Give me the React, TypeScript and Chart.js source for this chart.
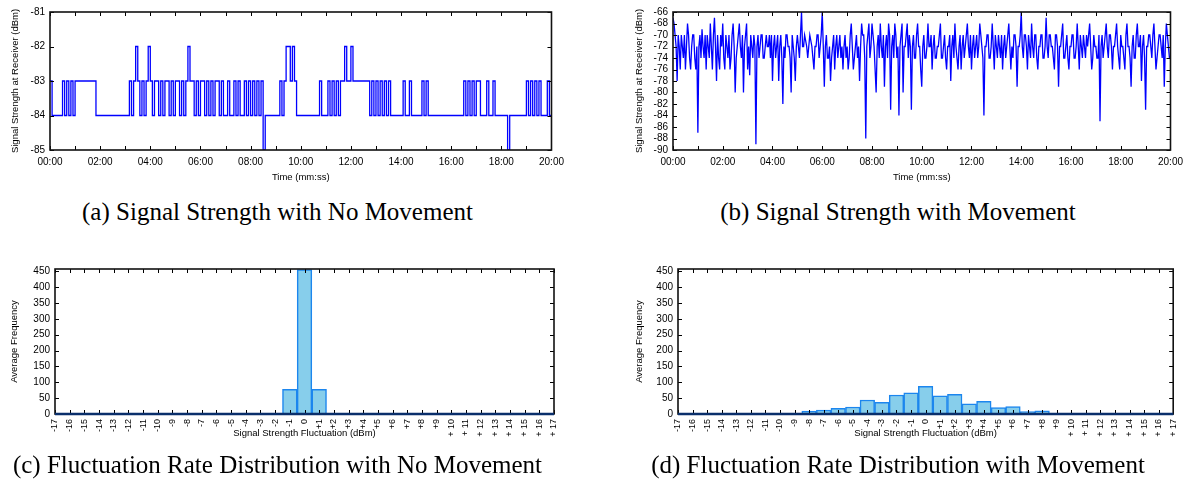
import React, { useEffect, useRef } from 'react';
import { Chart, registerables } from 'chart.js';

Chart.register(...registerables);
Chart.defaults.font.family = '"Liberation Sans", Arial, Helvetica, sans-serif';
Chart.defaults.color = '#000';

// ---------- DATA ----------
const NO_MOVE_SAMPLE_SECONDS = 5;
const MOVE_SAMPLE_SECONDS = 2.5;

// (a) signal strength, no movement (one reading every 5 s, 00:00 .. 20:00)
const noMoveSignal = [
  -83, -84, -84, -84, -84, -84, -83, -84, -83, -84,
  -83, -84, -83, -83, -83, -83, -83, -83, -83, -83,
  -83, -83, -84, -84, -84, -84, -84, -84, -84, -84,
  -84, -84, -84, -84, -84, -84, -84, -84, -83, -84,
  -83, -82, -83, -84, -83, -84, -83, -82, -83, -84,
  -83, -83, -84, -83, -84, -83, -83, -84, -83, -84,
  -83, -83, -84, -83, -84, -83, -82, -83, -83, -84,
  -83, -84, -83, -83, -84, -83, -84, -83, -84, -83,
  -83, -84, -83, -84, -84, -83, -84, -84, -83, -84,
  -83, -84, -84, -83, -84, -83, -84, -83, -84, -83,
  -84, -83, -85, -84, -84, -84, -84, -84, -84, -84,
  -83, -84, -83, -82, -82, -83, -82, -83, -84, -84,
  -84, -84, -84, -84, -84, -84, -84, -84, -84, -83,
  -84, -84, -84, -83, -84, -83, -84, -83, -84, -83,
  -83, -82, -83, -83, -82, -83, -83, -83, -83, -83,
  -83, -83, -83, -84, -83, -84, -83, -84, -83, -84,
  -83, -84, -83, -84, -84, -84, -84, -84, -84, -83,
  -84, -84, -83, -84, -84, -84, -84, -84, -83, -84,
  -83, -84, -84, -84, -84, -84, -84, -84, -84, -84,
  -84, -84, -84, -84, -84, -84, -84, -84, -83, -84,
  -83, -84, -83, -84, -83, -83, -84, -84, -84, -83,
  -84, -84, -83, -84, -84, -84, -84, -84, -84, -85,
  -84, -84, -84, -84, -84, -84, -84, -84, -83, -84,
  -83, -84, -83, -84, -83, -84, -84, -84, -83, -84,
  -84,
];

// (b) signal strength, with movement (one reading every 2.5 s)
const moveSignal = [
  -67, -68, -70, -72, -78, -70, -72, -76, -70, -72, -74, -70, -76, -72, -68, -70, -74, -76, -72, -70,
  -70, -74, -76, -72, -87, -72, -70, -74, -69, -72, -74, -70, -76, -70, -72, -74, -68, -72, -76, -70,
  -67, -72, -78, -70, -74, -76, -70, -72, -68, -74, -76, -70, -72, -74, -70, -76, -74, -70, -68, -72,
  -80, -74, -72, -70, -68, -72, -74, -70, -80, -72, -70, -68, -76, -72, -77, -70, -72, -74, -70, -72,
  -89, -72, -70, -74, -72, -70, -70, -74, -74, -72, -70, -72, -72, -70, -74, -70, -78, -72, -70, -74,
  -72, -70, -78, -72, -70, -74, -82, -72, -74, -70, -70, -72, -72, -74, -80, -70, -72, -74, -78, -72,
  -70, -72, -74, -70, -66, -72, -72, -70, -71, -72, -74, -72, -70, -71, -72, -74, -76, -72, -72, -70,
  -70, -74, -72, -70, -66, -72, -79, -72, -70, -74, -74, -72, -78, -74, -72, -70, -76, -72, -70, -74,
  -72, -70, -74, -72, -76, -72, -70, -74, -72, -76, -74, -70, -68, -72, -76, -74, -72, -70, -74, -72,
  -78, -72, -68, -70, -70, -74, -88, -72, -70, -68, -74, -72, -68, -70, -72, -76, -80, -72, -70, -74,
  -68, -72, -74, -70, -79, -72, -70, -74, -68, -70, -83, -72, -70, -74, -68, -70, -74, -72, -84, -72,
  -70, -68, -80, -72, -72, -70, -68, -74, -70, -72, -83, -72, -70, -74, -74, -70, -68, -72, -72, -76,
  -79, -72, -70, -74, -74, -72, -68, -72, -72, -70, -76, -72, -70, -74, -74, -72, -72, -70, -68, -74,
  -74, -72, -70, -74, -76, -72, -72, -70, -78, -72, -70, -74, -68, -72, -74, -76, -72, -70, -76, -72,
  -70, -74, -72, -70, -68, -72, -74, -70, -76, -72, -70, -74, -72, -70, -74, -72, -68, -70, -72, -74,
  -84, -72, -72, -70, -70, -74, -74, -72, -68, -72, -76, -70, -72, -74, -70, -72, -74, -70, -76, -72,
  -70, -74, -72, -70, -68, -72, -76, -72, -74, -70, -70, -72, -79, -72, -72, -70, -66, -72, -74, -70,
  -70, -72, -76, -70, -72, -74, -68, -72, -74, -70, -70, -74, -76, -72, -72, -70, -70, -74, -74, -72,
  -67, -72, -74, -70, -70, -72, -72, -74, -76, -70, -70, -72, -79, -72, -72, -70, -68, -74, -74, -72,
  -70, -74, -76, -72, -72, -70, -70, -74, -74, -72, -68, -72, -76, -70, -72, -74, -70, -72, -74, -70,
  -72, -70, -68, -72, -76, -74, -70, -72, -72, -74, -74, -70, -85, -72, -70, -74, -72, -70, -68, -72,
  -74, -70, -70, -72, -76, -72, -72, -70, -68, -72, -74, -76, -70, -72, -72, -74, -76, -70, -68, -72,
  -72, -74, -79, -72, -70, -74, -74, -70, -68, -72, -72, -70, -78, -72, -70, -74, -83, -72, -72, -70,
  -70, -72, -74, -70, -68, -72, -76, -74, -72, -70, -70, -72, -74, -70, -79, -72, -68, -70, -72, -74,
  -74,
];

const timeMarkTicks = [0, 60, 120, 180, 240, 300, 360, 420, 480, 540, 600, 660, 720, 780, 840, 900, 960, 1020, 1080, 1140, 1200];
const noMoveYTicks = [-81, -82, -83, -84, -85];
const moveYTicks = [-66, -68, -70, -72, -74, -76, -78, -80, -82, -84, -86, -88, -90];

// (c)/(d) fluctuation histograms
const fluctLabels = [
  '-17', '-16', '-15', '-14', '-13', '-12', '-11', '-10', '-9', '-8', '-7', '-6', '-5', '-4', '-3', '-2', '-1',
  '0',
  '+1', '+2', '+3', '+4', '+5', '+6', '+7', '+8', '+9',
  '+ 10', '+ 11', '+ 12', '+ 13', '+ 14', '+ 15', '+ 16', '+ 17',
];
const noMoveFreq = [
  0, 0, 0, 0, 0, 0, 0, 0, 0, 0, 0, 0, 0, 0, 0, 0, 78,
  455,
  78, 0, 0, 0, 0, 0, 0, 0, 0,
  0, 0, 0, 0, 0, 0, 0, 0,
];
const moveFreq = [
  0, 0, 0, 0, 0, 0, 0, 0, 2, 9, 12, 18, 22, 44, 37, 60, 67,
  87,
  57, 62, 32, 40, 20, 23, 8, 10, 2,
  0, 0, 0, 0, 0, 0, 0, 0,
];
const freqTicks = [0, 50, 100, 150, 200, 250, 300, 350, 400, 450];

// ---------- PLUGIN: gnuplot-like frame with inward ticks ----------
const framePlugin = {
  id: 'frame',
  afterDatasetsDraw(chart: any, _args: any, opts: any) {
    const { ctx, chartArea } = chart;
    const { left, right, top, bottom } = chartArea;
    const xs = chart.scales.x;
    const ys = chart.scales.y;
    const len = 4;
    ctx.save();
    ctx.strokeStyle = '#000';
    ctx.lineWidth = 1;
    ctx.beginPath();
    (opts.xTicks || []).forEach((v: number) => {
      const px = Math.round(xs.getPixelForValue(v)) + 0.5;
      ctx.moveTo(px, bottom);
      ctx.lineTo(px, bottom - len);
      ctx.moveTo(px, top);
      ctx.lineTo(px, top + len);
    });
    (opts.yTicks || []).forEach((v: number) => {
      const py = Math.round(ys.getPixelForValue(v)) + 0.5;
      ctx.moveTo(left, py);
      ctx.lineTo(left + len, py);
      ctx.moveTo(right, py);
      ctx.lineTo(right - len, py);
    });
    ctx.stroke();
    ctx.lineWidth = 1.6;
    ctx.strokeStyle = '#111';
    ctx.strokeRect(left, top, right - left, bottom - top);
    if (opts.baseColor) {
      ctx.strokeStyle = opts.baseColor;
      ctx.lineWidth = 2.5;
      ctx.beginPath();
      ctx.moveTo(left, bottom);
      ctx.lineTo(right, bottom);
      ctx.stroke();
    }
    ctx.restore();
  },
};

const fmtTime = (v: number) => {
  const m = Math.round(v / 60);
  return `${String(m).padStart(2, '0')}:00`;
};

function lineConfig(values: number[], sampleSeconds: number, stepped: boolean, yMin: number, yMax: number, yStep: number, yTicks: number[], yWidth: number, rightPad: number, yTitlePad: number): any {
  return {
    type: 'line',
    data: {
      datasets: [{
        data: values.map((v, i) => ({ x: i * sampleSeconds, y: v })),
        borderColor: '#0000ff',
        borderWidth: 1.3,
        pointRadius: 0,
        tension: 0,
        stepped,
        fill: false,
      }],
    },
    options: {
      responsive: false,
      maintainAspectRatio: false,
      animation: false,
      layout: { padding: { top: 12, right: rightPad, bottom: 0, left: 0 } },
      plugins: {
        legend: { display: false },
        tooltip: { enabled: false },
        frame: { xTicks: timeMarkTicks, yTicks, baseColor: null },
      },
      scales: {
        x: {
          type: 'linear', min: 0, max: 1200,
          afterFit: (s: any) => { s.height = 42; },
          grid: { display: false, drawTicks: false },
          border: { display: false },
          ticks: { stepSize: 120, autoSkip: false, maxRotation: 0, padding: 6, font: { size: 10 }, color: '#000', callback: (v: any) => fmtTime(Number(v)) },
          title: { display: true, text: 'Time (mm:ss)', color: '#000', font: { size: 9.5 }, padding: { top: 0, bottom: 9 } },
        },
        y: {
          type: 'linear', min: yMin, max: yMax,
          afterFit: (s: any) => { s.width = yWidth; },
          grid: { display: false, drawTicks: false },
          border: { display: false },
          ticks: { stepSize: yStep, autoSkip: false, padding: 5, font: { size: 10 }, color: '#000' },
          title: { display: true, text: 'Signal Strength at Receiver (dBm)', color: '#000', font: { size: 9.5 }, padding: { top: yTitlePad, bottom: 0 } },
        },
      },
    },
    plugins: [framePlugin],
  };
}

function histConfig(values: number[], yWidth: number, rightPad: number, yTitlePad: number): any {
  return {
    type: 'bar',
    data: {
      labels: fluctLabels,
      datasets: [{
        data: values,
        backgroundColor: 'rgb(135,206,235)',
        borderColor: 'rgb(28,134,238)',
        borderWidth: 1.5,
        borderSkipped: 'start',
        barPercentage: 1,
        categoryPercentage: 1,
      }],
    },
    options: {
      responsive: false,
      maintainAspectRatio: false,
      animation: false,
      layout: { padding: { top: 11, right: rightPad, bottom: 0, left: 0 } },
      plugins: {
        legend: { display: false },
        tooltip: { enabled: false },
        frame: { xTicks: fluctLabels.map((_, i) => i), yTicks: freqTicks, baseColor: '#0a2f6b' },
      },
      scales: {
        x: {
          type: 'category', offset: false,
          afterFit: (s: any) => { s.height = 44; },
          grid: { display: false, drawTicks: false, offset: false },
          border: { display: false },
          ticks: { autoSkip: false, minRotation: 90, maxRotation: 90, padding: 5, font: { size: 9 }, color: '#000' },
          title: { display: true, text: 'Signal Strength Fluctuation (dBm)', color: '#000', font: { size: 9.5 }, padding: { top: 0, bottom: 19 } },
        },
        y: {
          type: 'linear', min: 0, max: 457,
          afterFit: (s: any) => { s.width = yWidth; },
          grid: { display: false, drawTicks: false },
          border: { display: false },
          ticks: { stepSize: 50, includeBounds: false, autoSkip: false, padding: 5, font: { size: 10 }, color: '#000' },
          title: { display: true, text: 'Average Frequency', color: '#000', font: { size: 9.5 }, padding: { top: yTitlePad, bottom: 0 } },
        },
      },
    },
    plugins: [framePlugin],
  };
}

function ChartCanvas({ left, top, width, height, make }: { left: number; top: number; width: number; height: number; make: () => any }) {
  const ref = useRef<HTMLCanvasElement>(null);
  useEffect(() => {
    const chart = new Chart(ref.current as HTMLCanvasElement, make());
    return () => chart.destroy();
  }, []);
  return (
    <canvas
      ref={ref}
      width={width}
      height={height}
      style={{ position: 'absolute', left, top, width, height }}
    />
  );
}

function Caption({ left, top, width, text }: { left: number; top: number; width: number; text: string }) {
  return (
    <div
      style={{
        position: 'absolute', left, top, width, height: 30, lineHeight: '30px',
        textAlign: 'center', whiteSpace: 'nowrap',
        fontFamily: '"Liberation Serif", "Times New Roman", serif', fontSize: 25, color: '#000',
      }}
    >
      {text}
    </div>
  );
}

export default function App() {
  return (
    <div style={{ position: 'absolute', left: 0, top: 0, width: 1189, height: 480, background: '#fff', overflow: 'hidden' }}>
      <ChartCanvas left={0} top={0} width={570} height={192}
        make={() => lineConfig(noMoveSignal, NO_MOVE_SAMPLE_SECONDS, true, -85, -81, 1, noMoveYTicks, 50, 16, 10)} />
      <ChartCanvas left={620} top={0} width={569} height={192}
        make={() => lineConfig(moveSignal, MOVE_SAMPLE_SECONDS, false, -90, -66, 2, moveYTicks, 53, 12, 14)} />
      <ChartCanvas left={0} top={258} width={570} height={200}
        make={() => histConfig(noMoveFreq, 55, 16, 9)} />
      <ChartCanvas left={620} top={258} width={569} height={200}
        make={() => histConfig(moveFreq, 58, 12, 14)} />
      <Caption left={0} top={197} width={555} text="(a) Signal Strength with No Movement" />
      <Caption left={620} top={197} width={556} text="(b) Signal Strength with Movement" />
      <Caption left={0} top={450} width={555} text="(c) Fluctuation Rate Distribution with No Movement" />
      <Caption left={620} top={450} width={556} text="(d) Fluctuation Rate Distribution with Movement" />
    </div>
  );
}
